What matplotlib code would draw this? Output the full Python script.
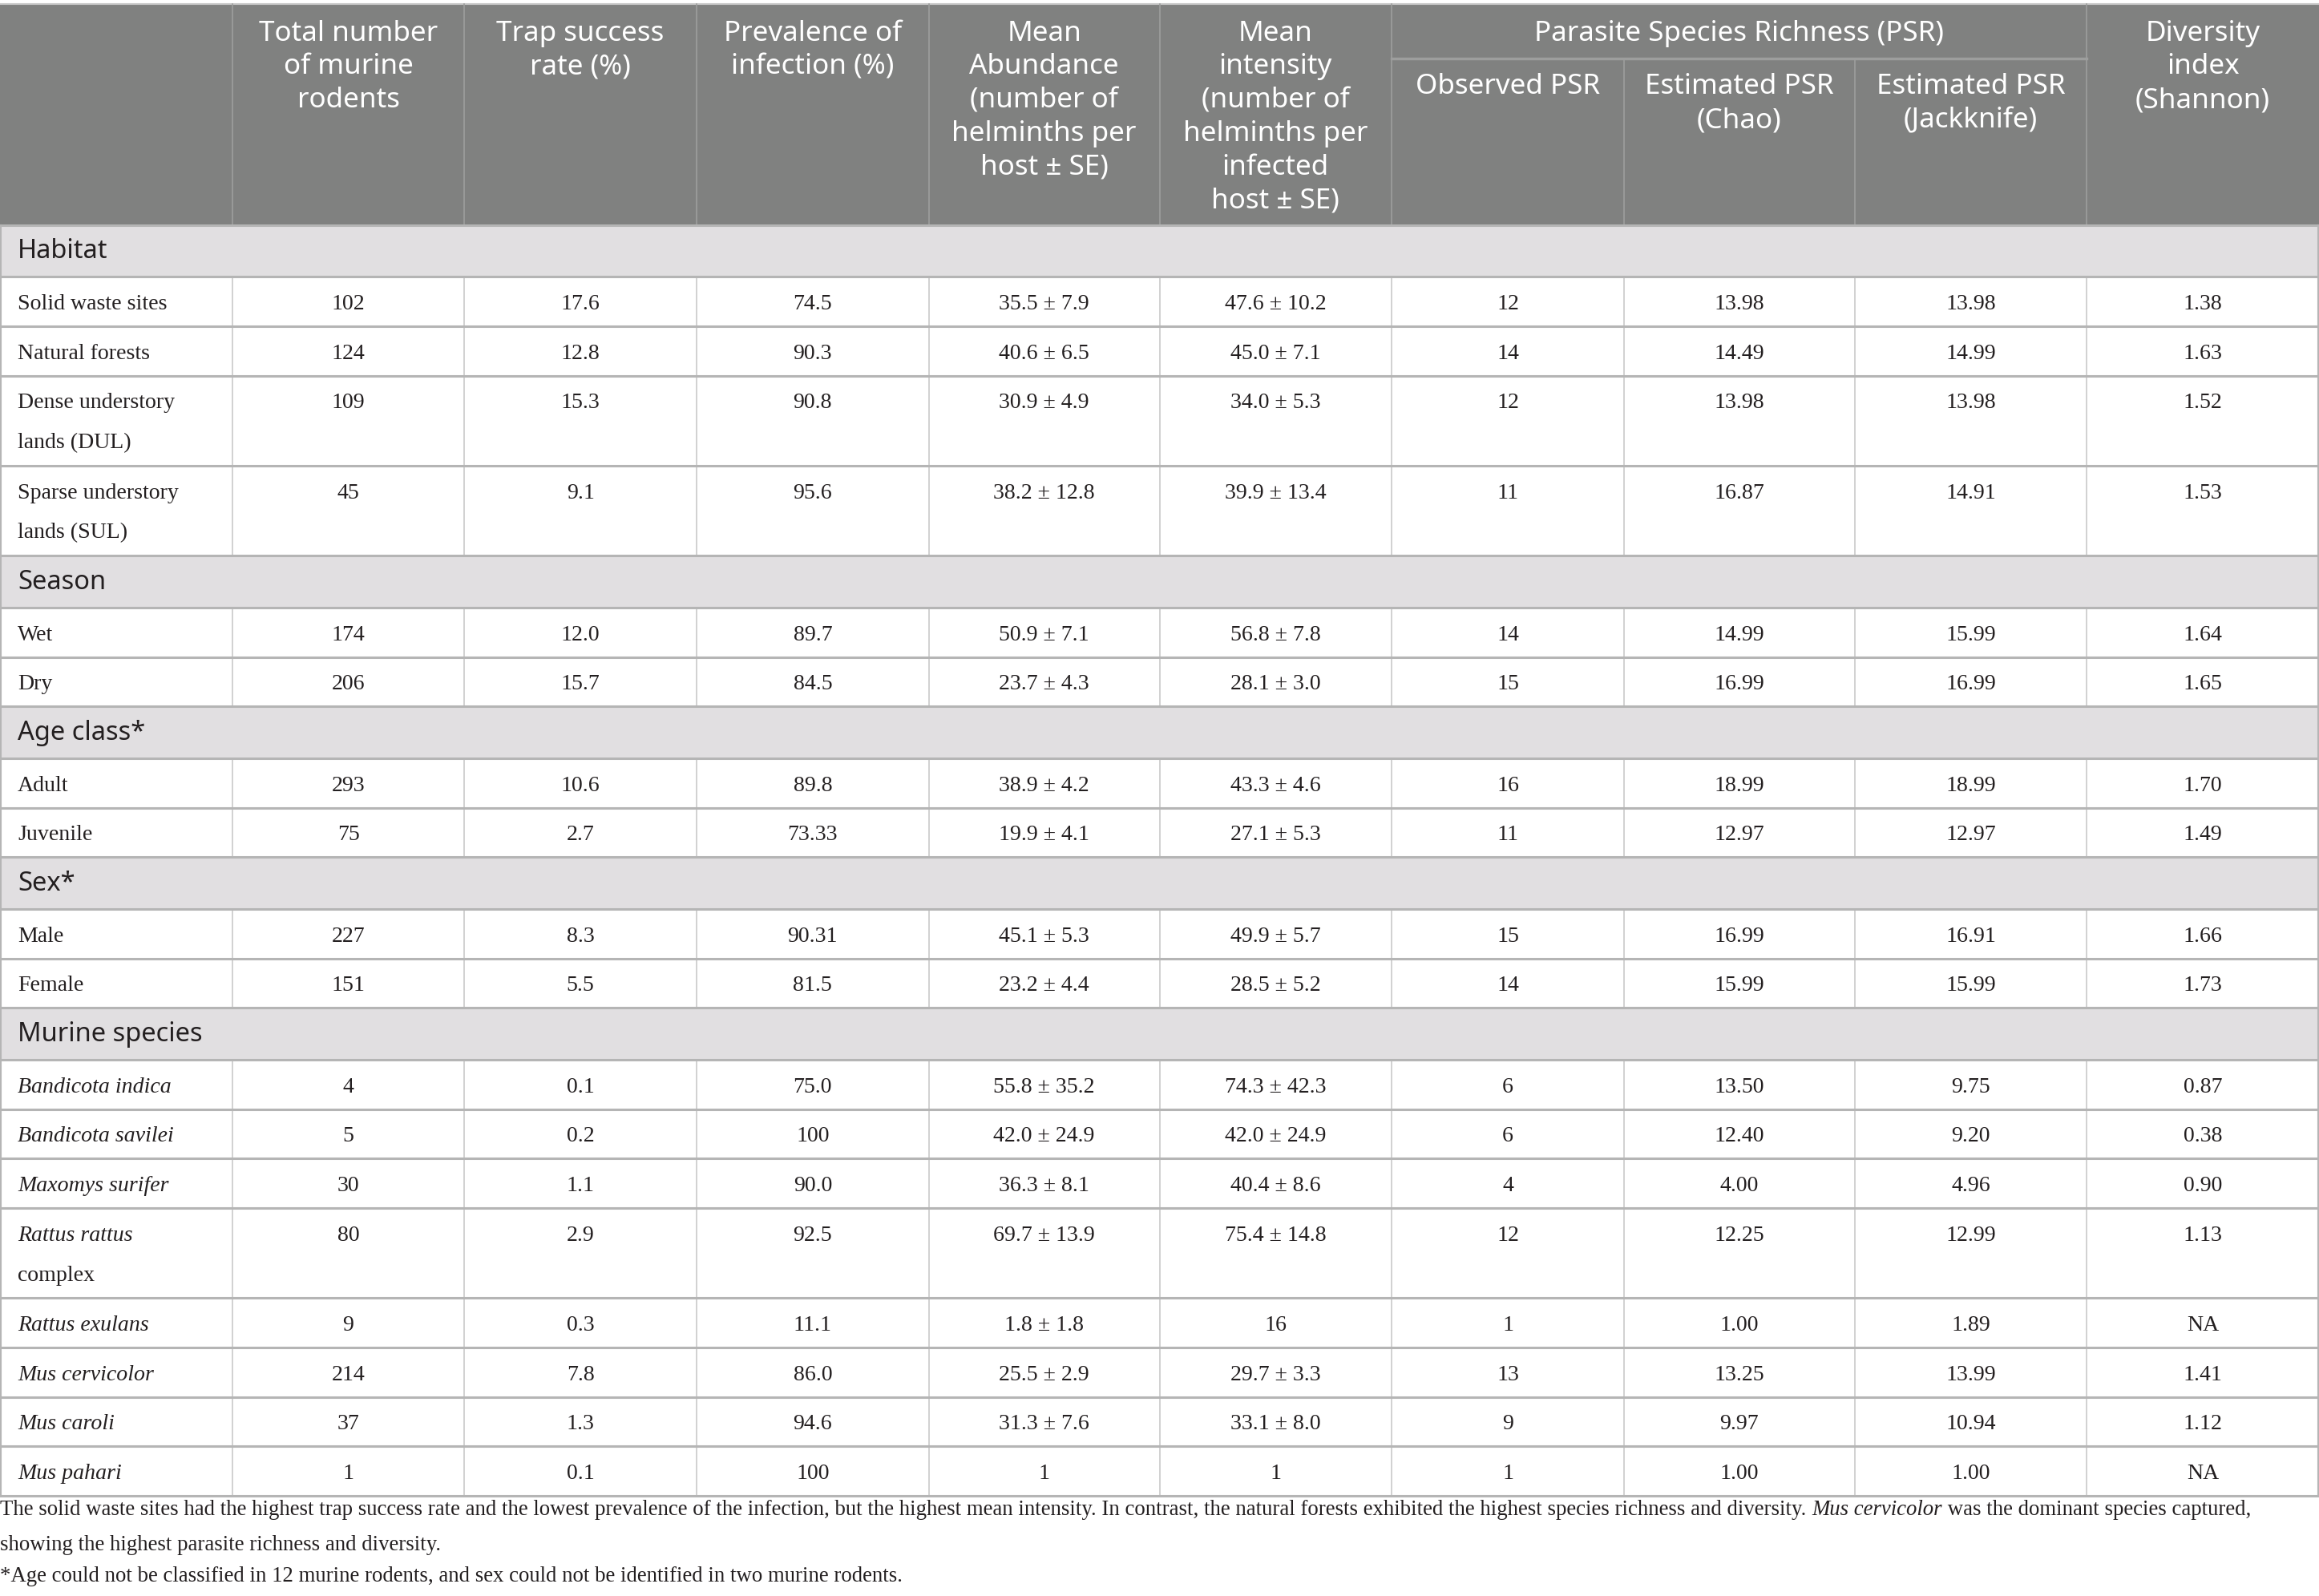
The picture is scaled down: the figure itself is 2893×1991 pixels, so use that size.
import matplotlib.pyplot as plt

# table content
sections = ["Habitat", "Season", "Age class*", "Sex*", "Murine species"]
section_sizes = [4, 2, 2, 2, 8]

row_labels = [
    ["Solid waste sites"], ["Natural forests"],
    ["Dense understory", "lands (DUL)"], ["Sparse understory", "lands (SUL)"],
    ["Wet"], ["Dry"],
    ["Adult"], ["Juvenile"],
    ["Male"], ["Female"],
    ["Bandicota indica"], ["Bandicota savilei"], ["Maxomys surifer"],
    ["Rattus rattus", "complex"], ["Rattus exulans"], ["Mus cervicolor"],
    ["Mus caroli"], ["Mus pahari"],
]
# which label lines are italic
label_italic = [
    [False], [False], [False, False], [False, False],
    [False], [False], [False], [False], [False], [False],
    [True], [True], [True], [True, False], [True], [True], [True], [True],
]

total_n = ["102", "124", "109", "45", "174", "206", "293", "75", "227", "151",
           "4", "5", "30", "80", "9", "214", "37", "1"]
trap_rate = ["17.6", "12.8", "15.3", "9.1", "12.0", "15.7", "10.6", "2.7", "8.3", "5.5",
             "0.1", "0.2", "1.1", "2.9", "0.3", "7.8", "1.3", "0.1"]
prevalence = ["74.5", "90.3", "90.8", "95.6", "89.7", "84.5", "89.8", "73.33", "90.31", "81.5",
              "75.0", "100", "90.0", "92.5", "11.1", "86.0", "94.6", "100"]
abundance = ["35.5 ± 7.9", "40.6 ± 6.5", "30.9 ± 4.9", "38.2 ± 12.8", "50.9 ± 7.1", "23.7 ± 4.3",
             "38.9 ± 4.2", "19.9 ± 4.1", "45.1 ± 5.3", "23.2 ± 4.4", "55.8 ± 35.2", "42.0 ± 24.9",
             "36.3 ± 8.1", "69.7 ± 13.9", "1.8 ± 1.8", "25.5 ± 2.9", "31.3 ± 7.6", "1"]
intensity = ["47.6 ± 10.2", "45.0 ± 7.1", "34.0 ± 5.3", "39.9 ± 13.4", "56.8 ± 7.8", "28.1 ± 3.0",
             "43.3 ± 4.6", "27.1 ± 5.3", "49.9 ± 5.7", "28.5 ± 5.2", "74.3 ± 42.3", "42.0 ± 24.9",
             "40.4 ± 8.6", "75.4 ± 14.8", "16", "29.7 ± 3.3", "33.1 ± 8.0", "1"]
psr_obs = ["12", "14", "12", "11", "14", "15", "16", "11", "15", "14",
           "6", "6", "4", "12", "1", "13", "9", "1"]
psr_chao = ["13.98", "14.49", "13.98", "16.87", "14.99", "16.99", "18.99", "12.97", "16.99", "15.99",
            "13.50", "12.40", "4.00", "12.25", "1.00", "13.25", "9.97", "1.00"]
psr_jack = ["13.98", "14.99", "13.98", "14.91", "15.99", "16.99", "18.99", "12.97", "16.91", "15.99",
            "9.75", "9.20", "4.96", "12.99", "1.89", "13.99", "10.94", "1.00"]
shannon = ["1.38", "1.63", "1.52", "1.53", "1.64", "1.65", "1.70", "1.49", "1.66", "1.73",
           "0.87", "0.38", "0.90", "1.13", "NA", "1.41", "1.12", "NA"]

columns = [total_n, trap_rate, prevalence, abundance, intensity, psr_obs, psr_chao, psr_jack, shannon]

headers = [
    ["Total number", "of murine", "rodents"],
    ["Trap success", "rate (%)"],
    ["Prevalence of", "infection (%)"],
    ["Mean", "Abundance", "(number of", "helminths per", "host ± SE)"],
    ["Mean", "intensity", "(number of", "helminths per", "infected", "host ± SE)"],
    ["Observed PSR"],
    ["Estimated PSR", "(Chao)"],
    ["Estimated PSR", "(Jackknife)"],
    ["Diversity", "index", "(Shannon)"],
]
group_header = "Parasite Species Richness (PSR)"

foot1 = [("The solid waste sites had the highest trap success rate and the lowest prevalence of the "
          "infection, but the highest mean intensity. In contrast, the natural forests exhibited the "
          "highest species richness and diversity. ", "normal"),
         ("Mus cervicolor", "italic"),
         (" was the dominant species captured,", "normal")]
foot2 = "showing the highest parasite richness and diversity."
foot3 = "*Age could not be classified in 12 murine rodents, and sex could not be identified in two murine rodents."

# layout (work in a 1568 x 1078 grid, scaled to the output)
W, H = 1568, 1078
S = 2893 / W


def fs(d):
    return d * S * 0.72


col_x = [0, 157, 314, 471, 628, 784, 941, 1098, 1254, 1411, 1568]
HEAD_TOP, HEAD_BOT = 2.5, 152
SEC_H, ROW1_H, ROW2_H = 35, 33.4, 60.8
LINE_GAP = 27

HEAD_BG = "#808180"
SEC_BG = "#e1dfe1"
TXT = "#231f20"
SANS = "Noto Sans"
SERIF = "Liberation Serif"
HEAD_FS = fs(19)
BODY_FS = fs(15.1)
SEC_FS = fs(17.7)
FOOT_FS = fs(14.5)

fig = plt.figure(figsize=(28.93, 19.91), dpi=100)
ax = fig.add_axes([0, 0, 1, 1])
ax.set_xlim(0, W)
ax.set_ylim(H, 0)
ax.axis("off")

# header block
ax.add_patch(plt.Rectangle((0, HEAD_TOP), W, HEAD_BOT - HEAD_TOP, color=HEAD_BG, lw=0))
ax.plot([0, W], [HEAD_TOP, HEAD_TOP], color="#c8c8c8", lw=1.5)
for i, x in enumerate(col_x[1:-1], start=1):
    y0 = 39.5 if i in (7, 8) else HEAD_TOP
    ax.plot([x, x], [y0, HEAD_BOT], color="#9d9e9d", lw=1.2)
ax.plot([col_x[6], col_x[9]], [39.5, 39.5], color="#9d9e9d", lw=2.5)
ax.text((col_x[6] + col_x[9]) / 2, 22.6, group_header, ha="center", va="center",
        color="white", fontsize=HEAD_FS, family=SANS)
for i, lines in enumerate(headers):
    cx = (col_x[i + 1] + col_x[i + 2]) / 2
    y_start = 58.7 if i in (5, 6, 7) else 22.6
    for k, line in enumerate(lines):
        ax.text(cx, y_start + k * 22.6, line, ha="center", va="center",
                color="white", fontsize=HEAD_FS, family=SANS)

# body
y = HEAD_BOT
hlines = [y]
r = 0
for sec, n in zip(sections, section_sizes):
    ax.add_patch(plt.Rectangle((0, y), W, SEC_H, color=SEC_BG, lw=0))
    ax.text(12, y + SEC_H / 2 + 0.5, sec, ha="left", va="center",
            color=TXT, fontsize=SEC_FS, family=SANS)
    y += SEC_H
    hlines.append(y)
    for _ in range(n):
        lines = row_labels[r]
        h = ROW1_H if len(lines) == 1 else ROW2_H
        ty = y + 18.5
        for k, (line, it) in enumerate(zip(lines, label_italic[r])):
            ax.text(12, ty + k * LINE_GAP, line, ha="left", va="center", color=TXT,
                    fontsize=BODY_FS, family=SERIF, style="italic" if it else "normal")
        for c, col in enumerate(columns):
            cx = (col_x[c + 1] + col_x[c + 2]) / 2
            ax.text(cx, ty, col[r], ha="center", va="center", color=TXT,
                    fontsize=BODY_FS, family=SERIF)
        for x in col_x[1:-1]:
            ax.plot([x, x], [y, y + h], color="#cacaca", lw=1.2)
        y += h
        hlines.append(y)
        r += 1

for hy in hlines:
    ax.plot([0, W], [hy, hy], color="#b5b5b5", lw=2.2)
ax.plot([0.6, 0.6], [HEAD_BOT, y], color="#b5b5b5", lw=1.5)
ax.plot([W - 0.6, W - 0.6], [HEAD_BOT, y], color="#b5b5b5", lw=1.5)

# footnotes (mixed italic on first line)
fig.canvas.draw()
renderer = fig.canvas.get_renderer()
inv = ax.transData.inverted()
fx = 0
for piece, st in foot1:
    t = ax.text(fx, 1020, piece, ha="left", va="center", color=TXT,
                fontsize=FOOT_FS, family=SERIF, style=st)
    bb = t.get_window_extent(renderer)
    fx = inv.transform((bb.x1, bb.y0))[0]
ax.text(0, 1043.5, foot2, ha="left", va="center", color=TXT, fontsize=FOOT_FS, family=SERIF)
ax.text(0, 1065, foot3, ha="left", va="center", color=TXT, fontsize=FOOT_FS, family=SERIF)

fig.savefig("out.png", dpi=100, facecolor="white")
